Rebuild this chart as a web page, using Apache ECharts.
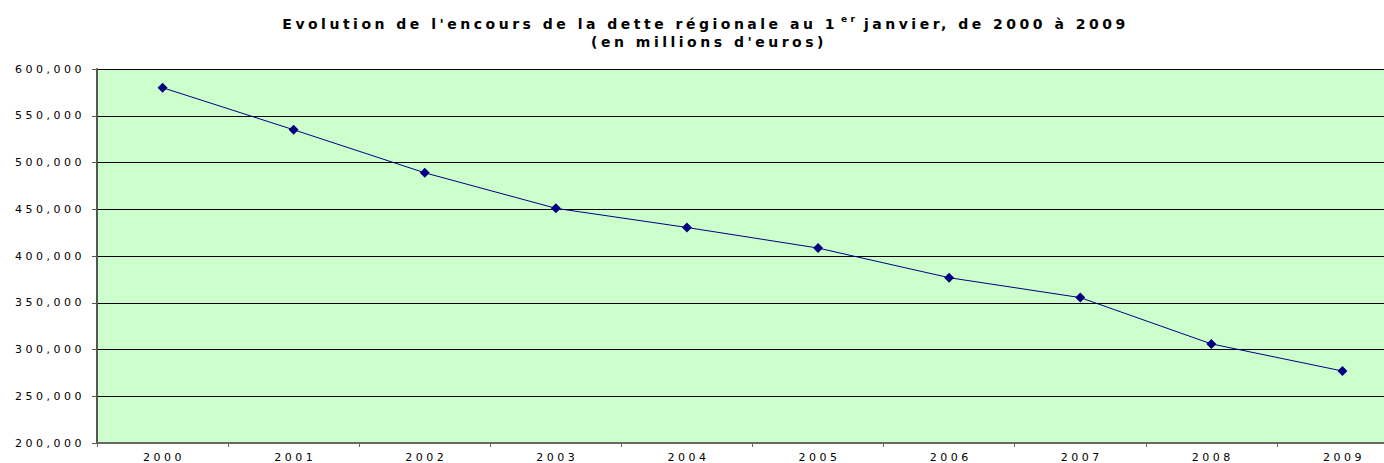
<!DOCTYPE html>
<html lang="fr">
<head>
    <meta charset="UTF-8">
    <title>Encours de la dette régionale</title>
    <script src="https://cdn.jsdelivr.net/npm/echarts@6/dist/echarts.min.js"></script>
    <style>
        body { margin: 0; background: #fff; overflow: hidden; }
        /* texte étiré comme dans le graphique Excel d'origine */
        #main text { letter-spacing: 3.5px; }
    </style>
</head>
<body>
<div id="main" style="width:1408px;height:463px;"></div>
<script type="text/javascript">
    // données
    var annees = ["2000", "2001", "2002", "2003", "2004", "2005", "2006", "2007", "2008", "2009"];
    var encours = [580000, 535000, 489000, 451000, 430500, 408500, 376800, 355500, 306000, 277000];

    var myChart = echarts.init(document.getElementById("main"), null, {renderer: "svg"});

    var titre = {
        fontFamily: "DejaVu Sans",
        fontSize: 14,
        fontWeight: "bold",
        color: "#000"
    };

    var option = {
        animation: false,
        title: [{
            text: "Evolution de l'encours de la dette régionale au 1",
            left: 833,
            textAlign: "right",
            top: 12,
            textStyle: titre
        }, {
            text: "er",
            left: 836,
            top: 9,
            textStyle: {fontFamily: "DejaVu Sans", fontSize: 9, fontWeight: "bold", color: "#000"}
        }, {
            text: "janvier, de 2000 à 2009",
            left: 859,
            top: 12,
            textStyle: titre
        }, {
            text: "(en millions d'euros)",
            left: 704,
            textAlign: "center",
            top: 30,
            textStyle: titre
        }],
        grid: {
            left: 97,
            right: 0,
            top: 69,
            bottom: 19,
            show: true,
            backgroundColor: "#CCFFCC",
            borderWidth: 0
        },
        xAxis: {
            type: "category",
            data: annees,
            boundaryGap: true,
            axisLine: {lineStyle: {color: "#666", width: 2}},
            axisTick: {show: true, length: 4, lineStyle: {color: "#666"}},
            axisLabel: {
                fontFamily: "DejaVu Sans",
                fontSize: 11,
                color: "#000",
                margin: 9,
                padding: [0, 0, 0, 3]
            }
        },
        yAxis: {
            type: "value",
            min: 200000,
            max: 600000,
            interval: 50000,
            axisLine: {show: true, lineStyle: {color: "#555", width: 2}},
            axisTick: {show: true, length: 5, lineStyle: {color: "#555"}},
            splitLine: {lineStyle: {color: "#000", width: 1}},
            axisLabel: {
                fontFamily: "DejaVu Sans",
                fontSize: 11,
                color: "#000",
                margin: 12,
                formatter: function (v) {
                    return v.toLocaleString("en-US");
                }
            }
        },
        series: [{
            type: "line",
            data: encours,
            symbol: "diamond",
            symbolSize: 10,
            lineStyle: {color: "#000080", width: 1},
            itemStyle: {color: "#000080"}
        }]
    };

    myChart.setOption(option);
</script>
</body>
</html>
